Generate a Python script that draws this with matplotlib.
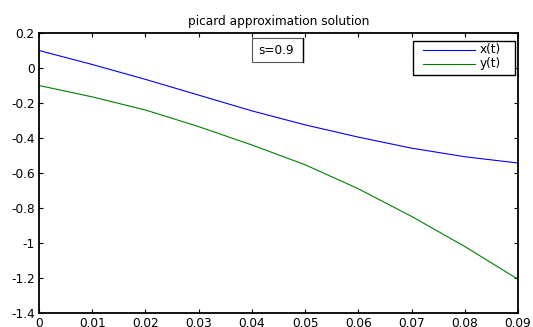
import matplotlib
matplotlib.use("Agg")
import matplotlib.pyplot as plt
from matplotlib.patches import Rectangle
from matplotlib.lines import Line2D

plt.rcParams['font.family'] = ['DejaVu Sans']

t = [0.0, 0.01, 0.02, 0.03, 0.04, 0.05, 0.06, 0.07, 0.08, 0.09]
x_vals = [0.10, 0.02, -0.065, -0.155, -0.245, -0.325, -0.395, -0.458, -0.507, -0.543]
y_vals = [-0.10, -0.165, -0.24, -0.335, -0.44, -0.553, -0.69, -0.848, -1.02, -1.207]
series_labels = ['x(t)', 'y(t)']
series_colors = ['#0000ff', '#008000']
xticks = [0, 0.01, 0.02, 0.03, 0.04, 0.05, 0.06, 0.07, 0.08, 0.09]
xticklabels = ['0', '0.01', '0.02', '0.03', '0.04', '0.05', '0.06', '0.07', '0.08', '0.09']
yticks = [0.2, 0, -0.2, -0.4, -0.6, -0.8, -1, -1.2, -1.4]
yticklabels = ['0.2', '0', '-0.2', '-0.4', '-0.6', '-0.8', '-1', '-1.2', '-1.4']

fs = 8.7
W, H = 533, 327
L, R, T, B = 39, 518, 33, 313

def ax_xy(px, py):
    return (px - L) / (R - L), (B - py) / (B - T)

fig = plt.figure(figsize=(W / 100, H / 100), dpi=100)
ax = fig.add_axes([L / W, 1 - B / H, (R - L) / W, (B - T) / H])
for vals, lab, col in zip([x_vals, y_vals], series_labels, series_colors):
    ax.plot(t, vals, color=col, lw=0.8, label=lab)
ax.set_xlim(0, 0.09)
ax.set_ylim(-1.4, 0.2)
ax.set_xticks(xticks)
ax.set_xticklabels(xticklabels)
ax.set_yticks(yticks)
ax.set_yticklabels(yticklabels)
ax.tick_params(direction='in', top=True, right=True, labelsize=fs, length=3, width=0.8, pad=3)
for s in ax.spines.values():
    s.set_linewidth(1.3)
ax.set_title('picard approximation solution', fontsize=fs, pad=6)

# legend box (MATLAB style)
x0, y1 = ax_xy(413, 41)
x1, y0 = ax_xy(515, 75)
ax.add_patch(Rectangle((x0, y0), x1 - x0, y1 - y0, transform=ax.transAxes,
                       fc='white', ec='black', lw=1.0, zorder=5))
for i, (lab, col) in enumerate(zip(series_labels, series_colors)):
    ly = 50 + 14 * i
    lx0, yy = ax_xy(423, ly)
    lx1, _ = ax_xy(475, ly)
    tx, _ = ax_xy(480, ly)
    ax.add_line(Line2D([lx0, lx1], [yy, yy], transform=ax.transAxes, color=col, lw=0.8, zorder=6))
    ax.text(tx, yy, lab, transform=ax.transAxes, fontsize=fs, ha='left', va='center', zorder=6)

# annotation box
bx0, by1 = ax_xy(252, 38)
bx1, by0 = ax_xy(303, 62)
ax.add_patch(Rectangle((bx0, by0), bx1 - bx0, by1 - by0, transform=ax.transAxes,
                       fc='white', ec='#555555', lw=0.8, zorder=5))
ax.add_line(Line2D([bx1, bx1], [by0, by1], transform=ax.transAxes, color='black', lw=1.0, zorder=6))
cx, cy = ax_xy(276, 50)
ax.text(cx, cy, 's=0.9', transform=ax.transAxes, fontsize=fs, ha='center', va='center', zorder=6)

fig.savefig('out.png', dpi=100)
